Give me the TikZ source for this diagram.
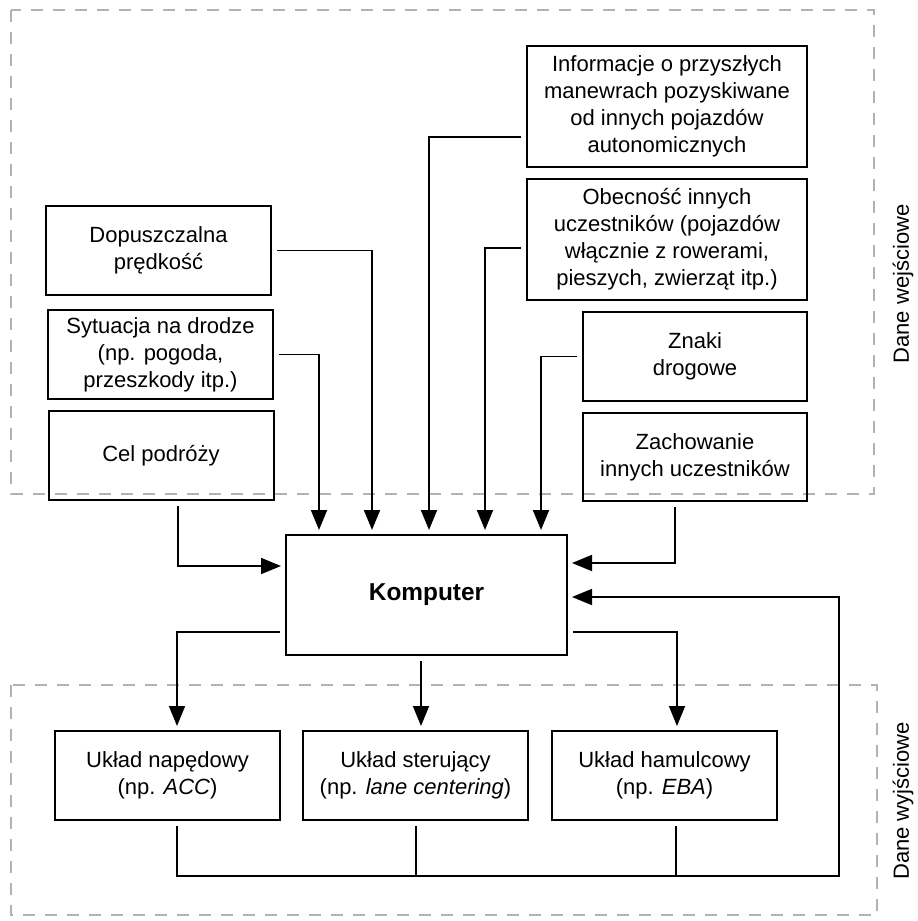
\documentclass[tikz,border=0pt]{standalone}
\usepackage{fontspec}
\setmainfont{Liberation Sans}
\usepackage{xcolor}
\usepackage{tikz}
\usetikzlibrary{arrows.meta,positioning}

\begin{document}
\begin{tikzpicture}[x=0.5pt, y=-0.5pt,
    box/.style={draw, line width=1pt, align=center, inner sep=0pt,
        font=\fontsize{11}{13.5}\selectfont},
    wide/.style={box, minimum width=140pt, minimum height=60.5pt},
    small/.style={box, minimum width=112.5pt, minimum height=44.5pt},
    link/.style={line width=0.9pt, shorten <=2.5pt},
    arr/.style={link, -{Triangle[length=10pt, width=8pt]}, shorten >=2pt},
    frame/.style={gray!60, line width=0.75pt, dash pattern=on 6pt off 5pt}]
    \useasboundingbox (0,0) rectangle (917,921);

    % Input and output areas (dashed frames)
    \draw[frame] (11,10) rectangle (874,494);
    \draw[frame] (11,685) rectangle (877,915);
    \node[rotate=90, font=\fontsize{11}{13}\selectfont] (inlabel) at (903,284) {Dane wejściowe};
    \node[rotate=90, font=\fontsize{11}{13}\selectfont] (outlabel) at (903,801) {Dane wyjściowe};

    % Input boxes - left column
    \node[small] (dop) at (158.5,250.5) {Dopuszczalna\\prędkość};
    \node[small] (syt) at (160.5,354.5) {Sytuacja na drodze\\(np. pogoda,\\przeszkody itp.)};
    \node[small] (cel) at (161,455.5) {Cel podróży};

    % Input boxes - right column
    \node[wide] (info) at (667,106.5) {Informacje o przyszłych\\manewrach pozyskiwane\\od innych pojazdów\\autonomicznych};
    \node[wide] (obec) at (667,239.5) {Obecność innych\\uczestników (pojazdów\\włącznie z rowerami,\\pieszych, zwierząt itp.)};
    \node[small, minimum width=112pt] (znaki) at (695,356.5) {Znaki\\drogowe};
    \node[small, minimum width=112pt, minimum height=44pt] (zach) at (695,457) {Zachowanie\\innych uczestników};

    % Central unit
    \node[box, minimum width=140.5pt, minimum height=60pt,
        font=\fontsize{12.2}{14}\selectfont\bfseries] (komp) at (426.5,595) {Komputer};

    % Output boxes
    \node[small] (nap) at (167.5,775.5) {Układ napędowy\\(np. \textit{ACC})};
    \node[small] (ster) at (415.5,775.5) {Układ sterujący\\(np. \textit{lane centering})};
    \node[small] (ham) at (664.5,775.5) {Układ hamulcowy\\(np. \textit{EBA})};

    % Inputs into the computer
    \draw[arr] (syt.east) -| (komp.north -| 319,0);
    \draw[arr] (dop.east) -| (komp.north -| 372,0);
    \draw[arr] (info.west |- 0,137) -| (komp.north -| 429,0);
    \draw[arr] (obec.west |- 0,248) -| (komp.north -| 485,0);
    \draw[arr] (znaki.west) -| (komp.north -| 541,0);
    \draw[arr] (cel.south -| 178,0) |- (komp.west |- 0,566);
    \draw[arr] (zach.south -| 675,0) |- (komp.east |- 0,563);

    % Outputs from the computer
    \draw[arr] (komp.west |- 0,632) -| (nap.north -| 177,0);
    \draw[arr] (komp.south -| 421,0) -- (ster.north -| 421,0);
    \draw[arr] (komp.east |- 0,632) -| (ham.north -| 677,0);

    % Feedback loop
    \coordinate (fb) at (839,876);
    \draw[arr] (nap.south -| 177,0) |- (fb) |- (komp.east |- 0,597);
    \draw[link] (ster.south -| 416,0) -- (fb -| 416,0);
    \draw[link] (ham.south -| 676,0) -- (fb -| 676,0);
\end{tikzpicture}
\end{document}
